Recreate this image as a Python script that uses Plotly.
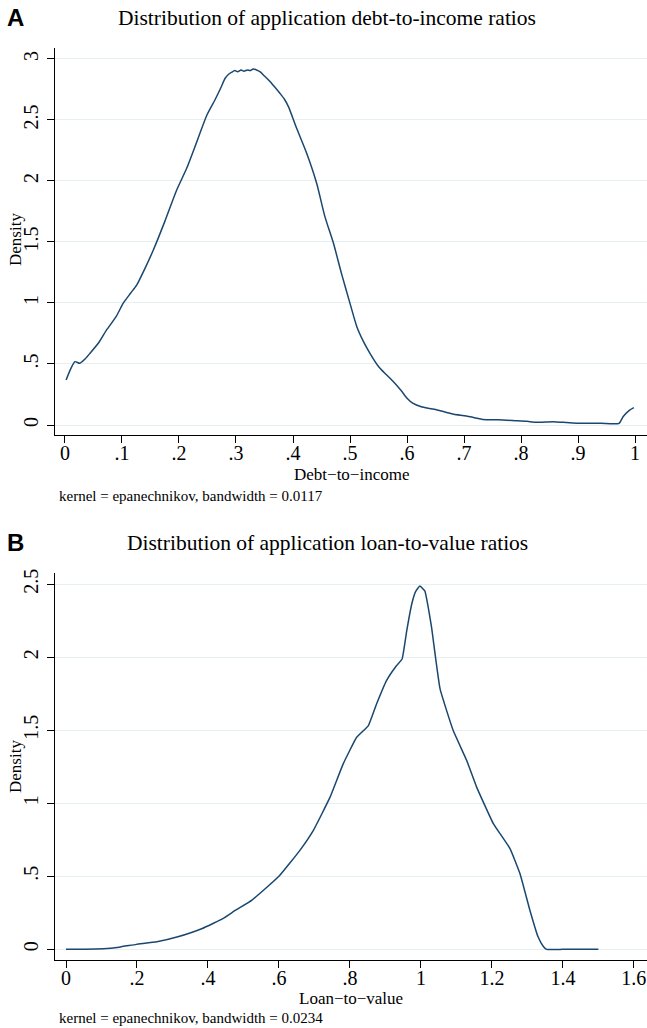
import plotly.graph_objects as go

# ---- Data ----
dti_x = [0.002, 0.01, 0.0175, 0.026, 0.035, 0.044, 0.06, 0.073, 0.09, 0.102, 0.115, 0.126, 0.14, 0.155,
         0.175, 0.196, 0.2135, 0.228, 0.249, 0.263, 0.273, 0.281, 0.287, 0.292, 0.298, 0.303, 0.309, 0.314,
         0.32, 0.325, 0.330, 0.336, 0.342, 0.35, 0.36, 0.368, 0.377, 0.385, 0.392, 0.4064, 0.424, 0.4415,
         0.456, 0.471, 0.485, 0.5, 0.512, 0.523, 0.535, 0.55, 0.562, 0.575, 0.59, 0.6, 0.61, 0.625, 0.64,
         0.653, 0.668, 0.682, 0.704, 0.72, 0.733, 0.76, 0.791, 0.81, 0.827, 0.856, 0.88, 0.9, 0.94, 0.972,
         0.979, 0.99, 0.998]
dti_y = [0.369, 0.46, 0.519, 0.506, 0.54, 0.588, 0.68, 0.779, 0.89, 0.997, 1.08, 1.148, 1.28, 1.434,
         1.667, 1.926, 2.104, 2.281, 2.541, 2.664, 2.76, 2.842, 2.875, 2.89, 2.905, 2.895, 2.91, 2.9,
         2.91, 2.905, 2.918, 2.91, 2.896, 2.86, 2.814, 2.77, 2.719, 2.67, 2.609, 2.432, 2.227, 1.981,
         1.708, 1.489, 1.243, 0.997, 0.806, 0.69, 0.588, 0.48, 0.42, 0.36, 0.28, 0.22, 0.18, 0.15, 0.135,
         0.123, 0.105, 0.088, 0.074, 0.058, 0.046, 0.042, 0.035, 0.03, 0.022, 0.027, 0.02, 0.014, 0.014,
         0.014, 0.068, 0.12, 0.142]

ltv_x = [0.0, 0.05, 0.105, 0.15, 0.198, 0.256, 0.315, 0.384, 0.443, 0.478, 0.524, 0.6, 0.659, 0.697,
         0.744, 0.781, 0.819, 0.852, 0.875, 0.903, 0.931, 0.947, 0.96, 0.974, 0.985, 0.997, 1.011, 1.02,
         1.03, 1.054, 1.091, 1.129, 1.157, 1.204, 1.251, 1.279, 1.307, 1.33, 1.345, 1.354, 1.4, 1.45, 1.5]
ltv_y = [0.0, 0.001, 0.004, 0.015, 0.034, 0.052, 0.086, 0.143, 0.212, 0.268, 0.337, 0.5, 0.678, 0.815,
         1.042, 1.27, 1.452, 1.532, 1.68, 1.84, 1.942, 1.988, 2.181, 2.363, 2.45, 2.488, 2.454, 2.35,
         2.204, 1.783, 1.498, 1.293, 1.111, 0.861, 0.69, 0.519, 0.268, 0.086, 0.02, 0.0, 0.0, 0.0, 0.0]

dti_xticks = [0, 0.1, 0.2, 0.3, 0.4, 0.5, 0.6, 0.7, 0.8, 0.9, 1.0]
dti_xlabels = ["0", ".1", ".2", ".3", ".4", ".5", ".6", ".7", ".8", ".9", "1"]
dti_yticks = [0, 0.5, 1, 1.5, 2, 2.5, 3]
dti_ylabels = ["0", ".5", "1", "1.5", "2", "2.5", "3"]

ltv_xticks = [0, 0.2, 0.4, 0.6, 0.8, 1.0, 1.2, 1.4, 1.6]
ltv_xlabels = ["0", ".2", ".4", ".6", ".8", "1", "1.2", "1.4", "1.6"]
ltv_yticks = [0, 0.5, 1, 1.5, 2, 2.5]
ltv_ylabels = ["0", ".5", "1", "1.5", "2", "2.5"]

# ---- Figure ----
W, H = 647, 1028
SERIF = "Liberation Serif, Times New Roman, Times, serif"
SANS = "Liberation Sans, Arial, sans-serif"
LINE = "#1a476f"
GRID = "#e6eff1"

def px(x):
    return x / W

def py(y):
    return 1 - y / H

fig = go.Figure()
fig.add_trace(go.Scatter(x=dti_x, y=dti_y, mode="lines",
                         line=dict(color=LINE, width=1.5, shape="spline", smoothing=0.6),
                         xaxis="x", yaxis="y", showlegend=False, hoverinfo="skip"))
fig.add_trace(go.Scatter(x=ltv_x, y=ltv_y, mode="lines",
                         line=dict(color=LINE, width=1.5, shape="spline", smoothing=0.35),
                         xaxis="x2", yaxis="y2", showlegend=False, hoverinfo="skip"))

tickfont = dict(family=SERIF, size=20, color="#000000")
axis_common = dict(showline=True, linecolor="#000000", linewidth=1.2, ticks="outside",
                   tickcolor="#000000", tickwidth=1.2, ticklen=7, zeroline=False,
                   automargin=False, tickfont=tickfont, tickmode="array")

fig.update_layout(
    width=W, height=H,
    font=dict(family=SERIF, size=17, color="#000000"),
    margin=dict(l=0, r=0, t=0, b=0, pad=0),
    paper_bgcolor="white", plot_bgcolor="white",
    xaxis=dict(domain=[px(55), 1], range=[-0.0175, 1.021], tickvals=dti_xticks,
               ticktext=dti_xlabels, showgrid=False, anchor="y", ticklabelstandoff=-7,
               **axis_common),
    yaxis=dict(domain=[py(435), py(48)], range=[-0.082, 3.09], tickvals=dti_yticks,
               ticktext=dti_ylabels, showgrid=True, gridcolor=GRID, gridwidth=1.3,
               tickangle=-90, anchor="x", ticklabelstandoff=1, **axis_common),
    xaxis2=dict(domain=[px(55), 1], range=[-0.031, 1.637], tickvals=ltv_xticks,
                ticktext=ltv_xlabels, showgrid=False, anchor="y2", ticklabelstandoff=-7,
                **axis_common),
    yaxis2=dict(domain=[py(960), py(573)], range=[-0.073, 2.577], tickvals=ltv_yticks,
                ticktext=ltv_ylabels, showgrid=True, gridcolor=GRID, gridwidth=1.3,
                tickangle=-90, anchor="x2", ticklabelstandoff=1, **axis_common),
)

ann = []
def add(text, x, y, size, family=SERIF, xanchor="center", yanchor="middle", angle=0, bold=False):
    ann.append(dict(text=f"<b>{text}</b>" if bold else text, x=px(x), y=py(y), xref="paper",
                    yref="paper", showarrow=False, xanchor=xanchor, yanchor=yanchor,
                    textangle=angle, font=dict(family=family, size=size, color="#000000")))

# Panel letters
add("A", 15, 17, 24, family=SANS, bold=True)
add("B", 15, 542, 24, family=SANS, bold=True)
# Titles
add("Distribution of application debt-to-income ratios", 327, 18, 21.5)
add("Distribution of application loan-to-value ratios", 327, 543, 21.5)
# Axis titles
add("Debt\u2212to\u2212income", 351, 474, 17)
add("Loan\u2212to\u2212value", 351, 998, 17)
add("Density", 15, 240, 17, angle=-90)
add("Density", 15, 767, 17, angle=-90)
# Notes
add("kernel = epanechnikov, bandwidth = 0.0117", 57, 496, 15, xanchor="left")
add("kernel = epanechnikov, bandwidth = 0.0234", 57, 1018, 15, xanchor="left")

fig.update_layout(annotations=ann)
fig.write_html("out.html")
